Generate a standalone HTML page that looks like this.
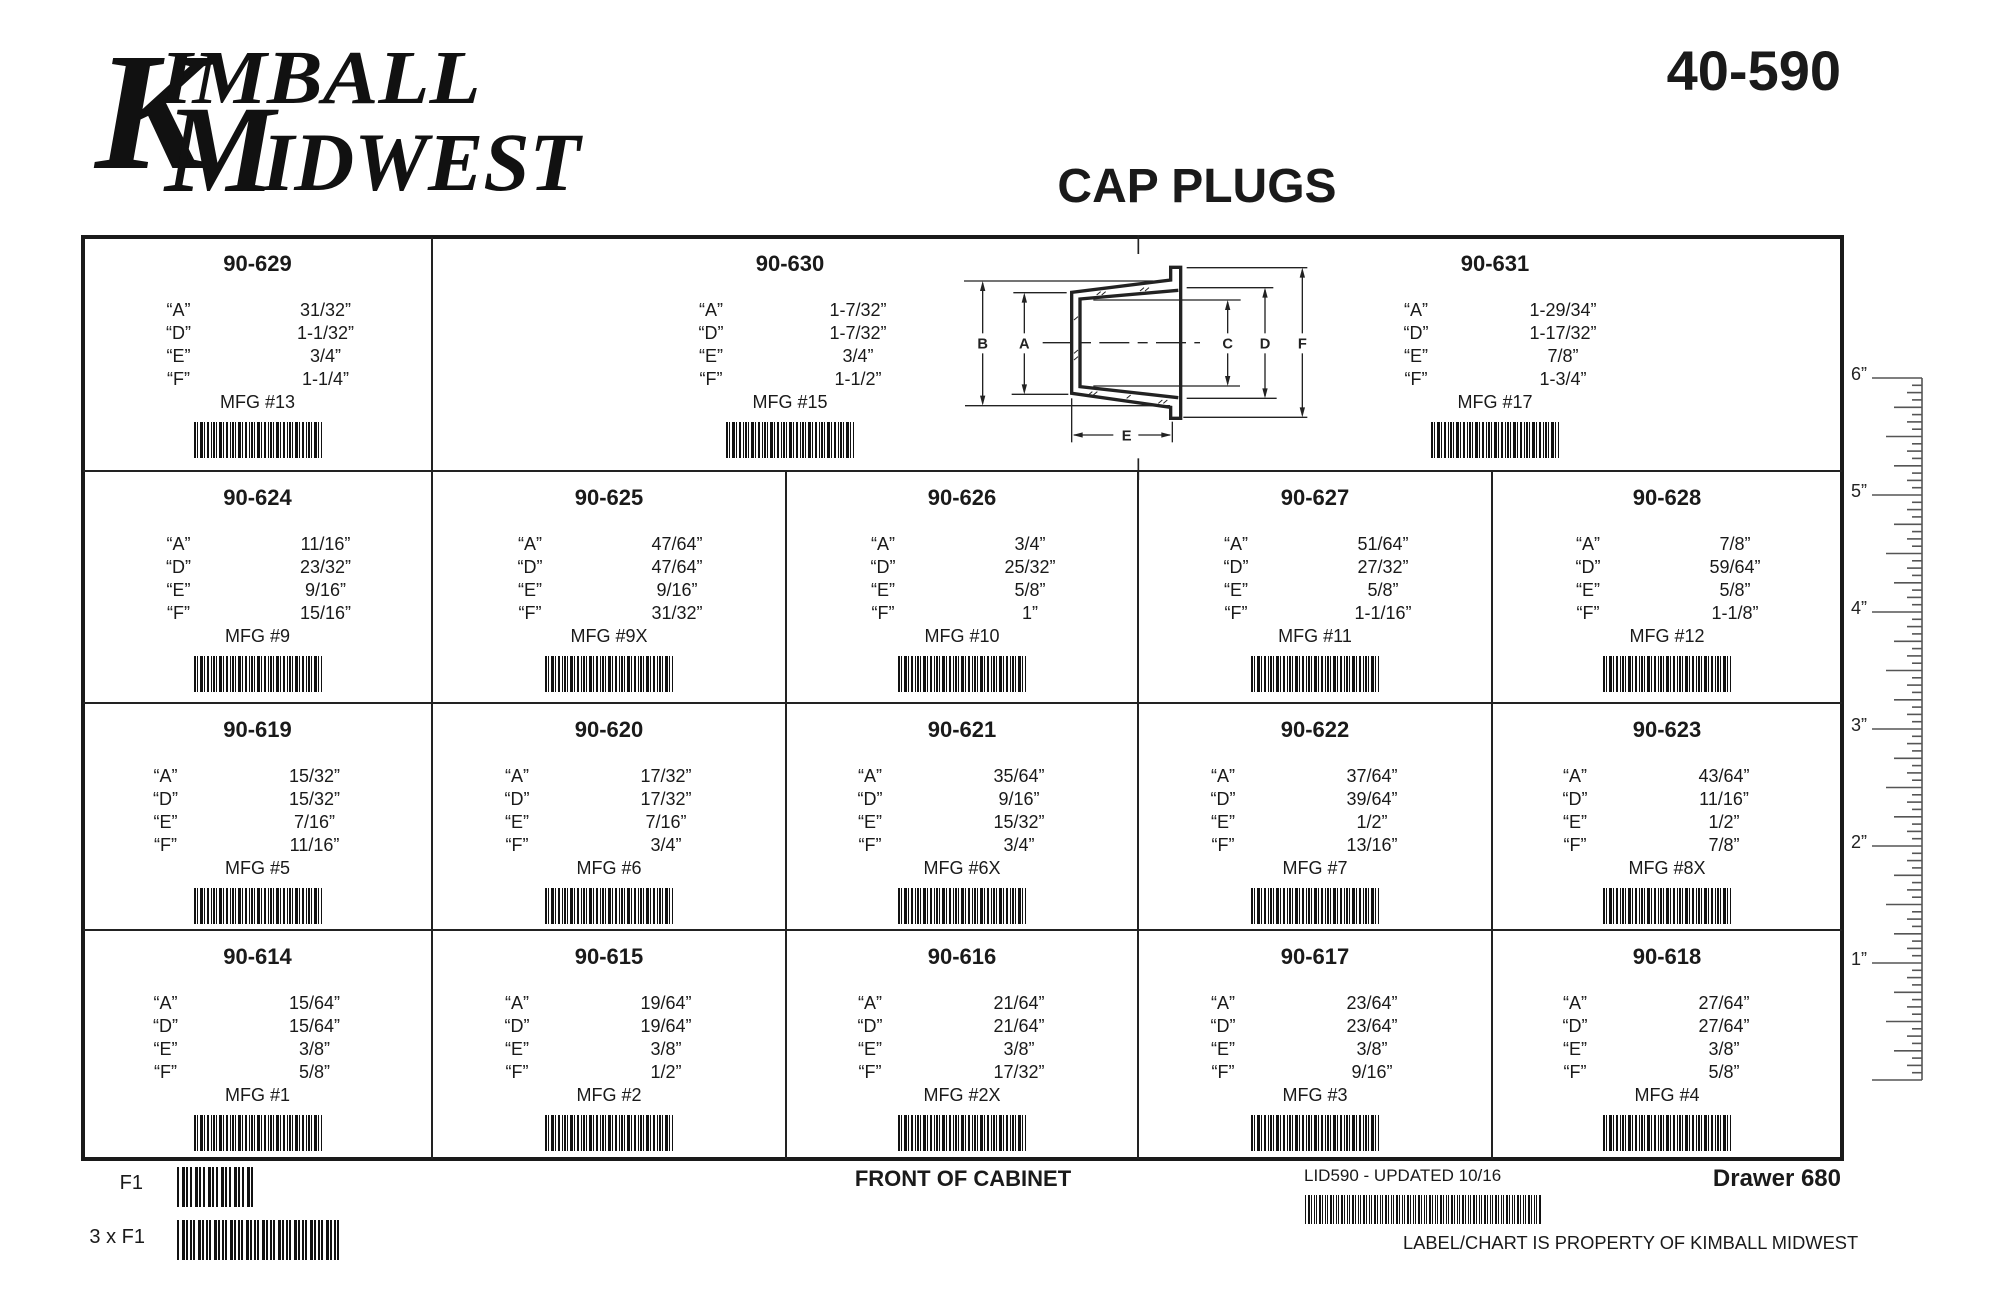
<!DOCTYPE html>
<html><head><meta charset="utf-8"><style>
*{margin:0;padding:0;box-sizing:border-box}
body{width:2000px;height:1294px;background:#fff;position:relative;overflow:hidden;font-family:"Liberation Sans",Arial,sans-serif;color:#1a1a1a}
.a{position:absolute}
.c{position:absolute;height:230px}
.ti{position:absolute;left:0;right:0;top:14px;text-align:center;font-weight:bold;font-size:22px;line-height:26px}
.s{position:absolute;left:50%;width:0;font-size:18px;line-height:22px}
.k{position:absolute;left:-109px;width:60px;text-align:center}
.v{position:absolute;left:18px;width:100px;text-align:center}
.r3 .k{left:-122px}.r3 .v{left:7px}
.s1{top:62px}.s2{top:85px}.s3{top:108px}.s4{top:131px}
.m{position:absolute;left:0;right:0;top:154px;text-align:center;font-size:18px;line-height:22px}
.bc{position:absolute;left:50%;margin-left:-64px;top:185px;width:128px;height:36px;
background:repeating-linear-gradient(90deg,#111 0 2px,#fff 2px 3px,#111 3px 4px,#fff 4px 6px,#111 6px 9px,#fff 9px 10px,#111 10px 11px,#fff 11px 13px,#111 13px 15px,#fff 15px 17px,#111 17px 18px,#fff 18px 19px)}
.ln{position:absolute;background:#222}
.logo{position:absolute;font-family:"Liberation Serif",serif;font-weight:bold;font-style:italic;color:#111;white-space:nowrap}
</style></head><body>

<div class="logo" style="left:95px;top:28px;font-size:168px;line-height:168px">K</div>
<div class="logo" style="left:160px;top:40px;font-size:76px;line-height:76px;transform:scaleX(1.1);transform-origin:left">IMBALL</div>
<div class="logo" style="left:165px;top:88px;font-size:124px;line-height:124px">M</div>
<div class="logo" style="left:262px;top:121px;font-size:83px;line-height:83px">IDWEST</div>

<div class="a" style="left:1500px;top:43px;width:341px;text-align:right;font-weight:bold;font-size:56px;line-height:56px">40-590</div>
<div class="a" style="left:997px;width:400px;top:163px;text-align:center;font-weight:bold;font-size:48px;line-height:48px">CAP PLUGS</div>

<div class="a" style="left:81px;top:235px;width:1763px;height:926px;border:4px solid #1a1a1a"></div>
<div class="ln" style="left:83px;top:470px;width:1759px;height:2px"></div>
<div class="ln" style="left:83px;top:702px;width:1759px;height:2px"></div>
<div class="ln" style="left:83px;top:929px;width:1759px;height:2px"></div>
<div class="ln" style="left:431px;top:237px;width:2px;height:922px"></div>
<div class="ln" style="left:785px;top:471px;width:2px;height:688px"></div>
<div class="ln" style="left:1137px;top:471px;width:2px;height:688px"></div>
<div class="ln" style="left:1491px;top:471px;width:2px;height:688px"></div>

<div class="c" style="left:83px;top:237px;width:349px"><div class="ti">90-629</div>
<div class="s s1"><span class="k">“A”</span><span class="v">31/32”</span></div>
<div class="s s2"><span class="k">“D”</span><span class="v">1-1/32”</span></div>
<div class="s s3"><span class="k">“E”</span><span class="v">3/4”</span></div>
<div class="s s4"><span class="k">“F”</span><span class="v">1-1/4”</span></div>
<div class="m">MFG #13</div><div class="bc"></div></div>

<div class="c" style="left:590px;top:237px;width:400px"><div class="ti">90-630</div>
<div class="s s1"><span class="k">“A”</span><span class="v">1-7/32”</span></div>
<div class="s s2"><span class="k">“D”</span><span class="v">1-7/32”</span></div>
<div class="s s3"><span class="k">“E”</span><span class="v">3/4”</span></div>
<div class="s s4"><span class="k">“F”</span><span class="v">1-1/2”</span></div>
<div class="m">MFG #15</div><div class="bc"></div></div>

<div class="c" style="left:1295px;top:237px;width:400px"><div class="ti">90-631</div>
<div class="s s1"><span class="k">“A”</span><span class="v">1-29/34”</span></div>
<div class="s s2"><span class="k">“D”</span><span class="v">1-17/32”</span></div>
<div class="s s3"><span class="k">“E”</span><span class="v">7/8”</span></div>
<div class="s s4"><span class="k">“F”</span><span class="v">1-3/4”</span></div>
<div class="m">MFG #17</div><div class="bc"></div></div>

<svg class="a" style="left:900px;top:230px" width="450" height="250" viewBox="0 0 1350 750">
<g stroke="#222" fill="none">
<line x1="715" y1="15" x2="715" y2="72" stroke-width="5"/>
<line x1="715" y1="685" x2="715" y2="750" stroke-width="5"/>
<g stroke-width="4">
<line x1="192" y1="153" x2="760" y2="153"/><line x1="195" y1="527" x2="810" y2="527"/>
<line x1="340" y1="188" x2="500" y2="188"/><line x1="335" y1="493" x2="505" y2="493"/>
<line x1="580" y1="210" x2="1022" y2="210"/><line x1="580" y1="468" x2="1020" y2="468"/>
<line x1="860" y1="173" x2="1120" y2="173"/><line x1="860" y1="505" x2="1130" y2="505"/>
<line x1="860" y1="113" x2="1222" y2="113"/><line x1="850" y1="562" x2="1222" y2="562"/>
<line x1="248" y1="160" x2="248" y2="310"/><line x1="248" y1="370" x2="248" y2="520"/>
<line x1="373" y1="195" x2="373" y2="310"/><line x1="373" y1="370" x2="373" y2="486"/>
<line x1="983" y1="217" x2="983" y2="310"/><line x1="983" y1="370" x2="983" y2="461"/>
<line x1="1095" y1="180" x2="1095" y2="310"/><line x1="1095" y1="370" x2="1095" y2="498"/>
<line x1="1207" y1="120" x2="1207" y2="310"/><line x1="1207" y1="370" x2="1207" y2="555"/>
<line x1="428" y1="338" x2="900" y2="338" stroke-dasharray="90 25 30 25"/>
<line x1="515" y1="505" x2="515" y2="637"/><line x1="817" y1="575" x2="817" y2="637"/>
<line x1="522" y1="615" x2="640" y2="615"/><line x1="715" y1="615" x2="810" y2="615"/>
</g>
<g stroke-width="10" stroke-linejoin="miter">
<path d="M812 150 L812 112 L842 112 L842 565 L812 565 L812 532 L515 490 L515 187 Z"/>
<path d="M835 181 L540 207 L540 470 L835 503"/>
</g>
<g stroke-width="3"><path d="M590 195l12-10M605 195l12-10M720 183l12-10M735 183l12-10M565 495l12-10M580 495l12-10M680 505l12-10M775 520l12-10M790 520l12-10M522 270l12-10M522 370l12-10M522 390l12-10"/></g>
</g>
<g fill="#222">
<path d="M248 153l-8 30h16z M248 527l-8-30h16z M373 188l-8 30h16z M373 493l-8-30h16z M983 210l-8 30h16z M983 468l-8-30h16z M1095 173l-8 30h16z M1095 505l-8-30h16z M1207 113l-8 30h16z M1207 562l-8-30h16z M518 615l30-8v16z M814 615l-30-8v16z"/>
</g>
<g font-family="Liberation Sans,sans-serif" font-weight="bold" font-size="44" text-anchor="middle" fill="#222">
<text x="248" y="355">B</text><text x="373" y="355">A</text><text x="983" y="355">C</text><text x="1095" y="355">D</text><text x="1207" y="355">F</text><text x="680" y="632">E</text>
</g>
</svg>

<div class="c" style="left:83px;top:471px;width:349px"><div class="ti">90-624</div>
<div class="s s1"><span class="k">“A”</span><span class="v">11/16”</span></div>
<div class="s s2"><span class="k">“D”</span><span class="v">23/32”</span></div>
<div class="s s3"><span class="k">“E”</span><span class="v">9/16”</span></div>
<div class="s s4"><span class="k">“F”</span><span class="v">15/16”</span></div>
<div class="m">MFG #9</div><div class="bc"></div></div>
<div class="c" style="left:432px;top:471px;width:354px"><div class="ti">90-625</div>
<div class="s s1"><span class="k">“A”</span><span class="v">47/64”</span></div>
<div class="s s2"><span class="k">“D”</span><span class="v">47/64”</span></div>
<div class="s s3"><span class="k">“E”</span><span class="v">9/16”</span></div>
<div class="s s4"><span class="k">“F”</span><span class="v">31/32”</span></div>
<div class="m">MFG #9X</div><div class="bc"></div></div>
<div class="c" style="left:786px;top:471px;width:352px"><div class="ti">90-626</div>
<div class="s s1"><span class="k">“A”</span><span class="v">3/4”</span></div>
<div class="s s2"><span class="k">“D”</span><span class="v">25/32”</span></div>
<div class="s s3"><span class="k">“E”</span><span class="v">5/8”</span></div>
<div class="s s4"><span class="k">“F”</span><span class="v">1”</span></div>
<div class="m">MFG #10</div><div class="bc"></div></div>
<div class="c" style="left:1138px;top:471px;width:354px"><div class="ti">90-627</div>
<div class="s s1"><span class="k">“A”</span><span class="v">51/64”</span></div>
<div class="s s2"><span class="k">“D”</span><span class="v">27/32”</span></div>
<div class="s s3"><span class="k">“E”</span><span class="v">5/8”</span></div>
<div class="s s4"><span class="k">“F”</span><span class="v">1-1/16”</span></div>
<div class="m">MFG #11</div><div class="bc"></div></div>
<div class="c" style="left:1492px;top:471px;width:350px"><div class="ti">90-628</div>
<div class="s s1"><span class="k">“A”</span><span class="v">7/8”</span></div>
<div class="s s2"><span class="k">“D”</span><span class="v">59/64”</span></div>
<div class="s s3"><span class="k">“E”</span><span class="v">5/8”</span></div>
<div class="s s4"><span class="k">“F”</span><span class="v">1-1/8”</span></div>
<div class="m">MFG #12</div><div class="bc"></div></div>

<div class="c r3" style="left:83px;top:703px;width:349px"><div class="ti">90-619</div>
<div class="s s1"><span class="k">“A”</span><span class="v">15/32”</span></div>
<div class="s s2"><span class="k">“D”</span><span class="v">15/32”</span></div>
<div class="s s3"><span class="k">“E”</span><span class="v">7/16”</span></div>
<div class="s s4"><span class="k">“F”</span><span class="v">11/16”</span></div>
<div class="m">MFG #5</div><div class="bc"></div></div>
<div class="c r3" style="left:432px;top:703px;width:354px"><div class="ti">90-620</div>
<div class="s s1"><span class="k">“A”</span><span class="v">17/32”</span></div>
<div class="s s2"><span class="k">“D”</span><span class="v">17/32”</span></div>
<div class="s s3"><span class="k">“E”</span><span class="v">7/16”</span></div>
<div class="s s4"><span class="k">“F”</span><span class="v">3/4”</span></div>
<div class="m">MFG #6</div><div class="bc"></div></div>
<div class="c r3" style="left:786px;top:703px;width:352px"><div class="ti">90-621</div>
<div class="s s1"><span class="k">“A”</span><span class="v">35/64”</span></div>
<div class="s s2"><span class="k">“D”</span><span class="v">9/16”</span></div>
<div class="s s3"><span class="k">“E”</span><span class="v">15/32”</span></div>
<div class="s s4"><span class="k">“F”</span><span class="v">3/4”</span></div>
<div class="m">MFG #6X</div><div class="bc"></div></div>
<div class="c r3" style="left:1138px;top:703px;width:354px"><div class="ti">90-622</div>
<div class="s s1"><span class="k">“A”</span><span class="v">37/64”</span></div>
<div class="s s2"><span class="k">“D”</span><span class="v">39/64”</span></div>
<div class="s s3"><span class="k">“E”</span><span class="v">1/2”</span></div>
<div class="s s4"><span class="k">“F”</span><span class="v">13/16”</span></div>
<div class="m">MFG #7</div><div class="bc"></div></div>
<div class="c r3" style="left:1492px;top:703px;width:350px"><div class="ti">90-623</div>
<div class="s s1"><span class="k">“A”</span><span class="v">43/64”</span></div>
<div class="s s2"><span class="k">“D”</span><span class="v">11/16”</span></div>
<div class="s s3"><span class="k">“E”</span><span class="v">1/2”</span></div>
<div class="s s4"><span class="k">“F”</span><span class="v">7/8”</span></div>
<div class="m">MFG #8X</div><div class="bc"></div></div>

<div class="c r3" style="left:83px;top:930px;width:349px"><div class="ti">90-614</div>
<div class="s s1"><span class="k">“A”</span><span class="v">15/64”</span></div>
<div class="s s2"><span class="k">“D”</span><span class="v">15/64”</span></div>
<div class="s s3"><span class="k">“E”</span><span class="v">3/8”</span></div>
<div class="s s4"><span class="k">“F”</span><span class="v">5/8”</span></div>
<div class="m">MFG #1</div><div class="bc"></div></div>
<div class="c r3" style="left:432px;top:930px;width:354px"><div class="ti">90-615</div>
<div class="s s1"><span class="k">“A”</span><span class="v">19/64”</span></div>
<div class="s s2"><span class="k">“D”</span><span class="v">19/64”</span></div>
<div class="s s3"><span class="k">“E”</span><span class="v">3/8”</span></div>
<div class="s s4"><span class="k">“F”</span><span class="v">1/2”</span></div>
<div class="m">MFG #2</div><div class="bc"></div></div>
<div class="c r3" style="left:786px;top:930px;width:352px"><div class="ti">90-616</div>
<div class="s s1"><span class="k">“A”</span><span class="v">21/64”</span></div>
<div class="s s2"><span class="k">“D”</span><span class="v">21/64”</span></div>
<div class="s s3"><span class="k">“E”</span><span class="v">3/8”</span></div>
<div class="s s4"><span class="k">“F”</span><span class="v">17/32”</span></div>
<div class="m">MFG #2X</div><div class="bc"></div></div>
<div class="c r3" style="left:1138px;top:930px;width:354px"><div class="ti">90-617</div>
<div class="s s1"><span class="k">“A”</span><span class="v">23/64”</span></div>
<div class="s s2"><span class="k">“D”</span><span class="v">23/64”</span></div>
<div class="s s3"><span class="k">“E”</span><span class="v">3/8”</span></div>
<div class="s s4"><span class="k">“F”</span><span class="v">9/16”</span></div>
<div class="m">MFG #3</div><div class="bc"></div></div>
<div class="c r3" style="left:1492px;top:930px;width:350px"><div class="ti">90-618</div>
<div class="s s1"><span class="k">“A”</span><span class="v">27/64”</span></div>
<div class="s s2"><span class="k">“D”</span><span class="v">27/64”</span></div>
<div class="s s3"><span class="k">“E”</span><span class="v">3/8”</span></div>
<div class="s s4"><span class="k">“F”</span><span class="v">5/8”</span></div>
<div class="m">MFG #4</div><div class="bc"></div></div>

<svg class="a" style="left:1840px;top:350px" width="160" height="750">
<g stroke="#555" stroke-width="1.6">
<line x1="82" y1="28" x2="82" y2="730"/>
</g>
<g id="rt" stroke="#555" stroke-width="1.6"></g>
<g font-family="Liberation Sans,sans-serif" font-size="18" fill="#222">
<text x="11" y="30">6”</text><text x="11" y="147">5”</text><text x="11" y="264">4”</text><text x="11" y="381">3”</text><text x="11" y="498">2”</text><text x="11" y="615">1”</text>
</g>
</svg>
<script>
(function(){var g=document.getElementById('rt'),s='';for(var i=0;i<=96;i++){var y=28+i*117/16,l=i%16==0?50:(i%8==0?36:(i%4==0?28:(i%2==0?15:10)));s+='<line x1="'+(82-l)+'" y1="'+y.toFixed(1)+'" x2="82" y2="'+y.toFixed(1)+'"/>';}g.innerHTML=s;})();
</script>

<div class="a" style="left:83px;top:1171px;width:60px;text-align:right;font-size:20px;line-height:24px">F1</div>
<div class="a" style="left:177px;top:1167px;width:76px;height:40px;background:repeating-linear-gradient(90deg,#111 0 2px,#fff 2px 5px,#111 5px 8px,#fff 8px 9px,#111 9px 11px,#fff 11px 13px)"></div>
<div class="a" style="left:60px;top:1225px;width:85px;text-align:right;font-size:20px;line-height:24px">3 x F1</div>
<div class="a" style="left:177px;top:1220px;width:163px;height:40px;background:repeating-linear-gradient(90deg,#111 0 2px,#fff 2px 5px,#111 5px 8px,#fff 8px 9px,#111 9px 11px,#fff 11px 13px,#111 13px 15px,#fff 15px 16px)"></div>
<div class="a" style="left:763px;width:400px;top:1166px;text-align:center;font-weight:bold;font-size:22px;line-height:26px">FRONT OF CABINET</div>
<div class="a" style="left:1304px;top:1165px;font-size:17px;line-height:22px;white-space:nowrap">LID590 - UPDATED 10/16</div>
<div class="a" style="left:1305px;top:1195px;width:236px;height:29px;background:repeating-linear-gradient(90deg,#111 0 1px,#fff 1px 3px,#111 3px 5px,#fff 5px 6px,#111 6px 7px,#fff 7px 9px,#111 9px 10px,#fff 10px 11px)"></div>
<div class="a" style="left:1600px;top:1165px;width:241px;text-align:right;font-weight:bold;font-size:24px;line-height:28px">Drawer 680</div>
<div class="a" style="left:1403px;top:1232px;font-size:18.3px;line-height:22px;white-space:nowrap">LABEL/CHART IS PROPERTY OF KIMBALL MIDWEST</div>
</body></html>
